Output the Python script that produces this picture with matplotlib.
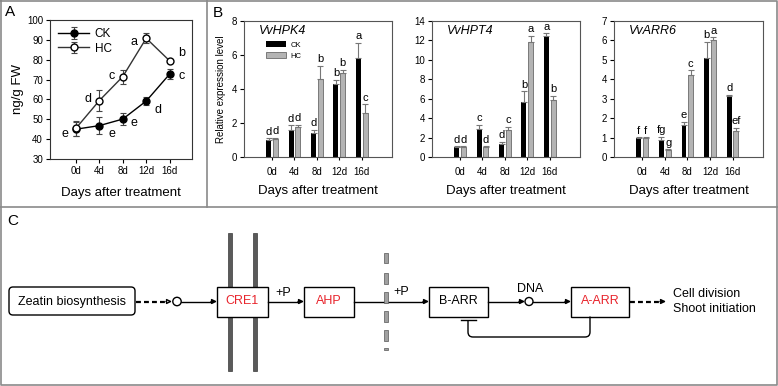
import numpy as np
import matplotlib
matplotlib.use('Agg')
import matplotlib.pyplot as plt
from matplotlib.patches import Rectangle, FancyBboxPatch, PathPatch, Circle
from matplotlib.path import Path

plt.rcParams['font.family'] = ['Liberation Sans', 'DejaVu Sans']

W, H = 778, 386

# ---- data ----
days = ['0d', '4d', '8d', '12d', '16d']

# panel A: zeatin content (ng/g FW)
ck_zeatin = [45.0, 46.8, 50.1, 59.2, 72.8]
ck_zeatin_err = [3.6, 4.3, 3.0, 2.1, 2.3]
hc_zeatin = [45.4, 59.4, 71.5, 90.8, 79.4]
hc_zeatin_err = [3.6, 5.3, 3.5, 2.5, 1.0]
ck_zeatin_letters = ['e', 'e', 'e', 'd', 'c']
hc_zeatin_letters = ['', 'd', 'c', 'a', 'b']

# panel B: relative expression
hpk4_ck = [1.02, 1.57, 1.43, 4.27, 5.82]
hpk4_ck_err = [0.08, 0.29, 0.17, 0.28, 0.88]
hpk4_hc = [1.04, 1.76, 4.57, 4.94, 2.60]
hpk4_hc_err = [0.08, 0.14, 0.80, 0.20, 0.50]
hpk4_ck_letters = ['d', 'd', 'd', 'b', 'a']
hpk4_hc_letters = ['d', 'd', 'b', 'b', 'c']

hpt4_ck = [1.04, 2.85, 1.32, 5.63, 12.43]
hpt4_ck_err = [0.05, 0.45, 0.25, 1.14, 0.30]
hpt4_hc = [1.04, 1.04, 2.78, 11.80, 5.90]
hpt4_hc_err = [0.05, 0.05, 0.35, 0.70, 0.40]
hpt4_ck_letters = ['d', 'c', 'd', 'b', 'a']
hpt4_hc_letters = ['d', 'd', 'c', 'a', 'b']

arr6_ck = [0.99, 0.87, 1.65, 5.07, 3.16]
arr6_ck_err = [0.02, 0.17, 0.17, 0.87, 0.05]
arr6_hc = [1.00, 0.38, 4.24, 6.04, 1.34]
arr6_hc_err = [0.02, 0.02, 0.22, 0.12, 0.16]
arr6_ck_letters = ['f', 'fg', 'e', 'b', 'd']
arr6_hc_letters = ['f', 'g', 'c', 'a', 'ef']


def px_rect(x0, y0, x1, y1):
    return [x0 / W, 1 - y1 / H, (x1 - x0) / W, (y1 - y0) / H]


fig = plt.figure(figsize=(W / 100, H / 100), dpi=100)

# overlay in pixel coords for frames and pathway diagram
ov = fig.add_axes([0, 0, 1, 1])
ov.set_xlim(0, W)
ov.set_ylim(H, 0)
ov.axis('off')

frame_c = '#8a8a8a'
ov.plot([0.5, W - 1, W - 1, 0.5, 0.5], [0.5, 0.5, H - 1.5, H - 1.5, 0.5], color=frame_c, lw=1.2)
ov.plot([0, W], [206.5, 206.5], color=frame_c, lw=1.2)
ov.plot([207.5, 207.5], [0, 206.5], color=frame_c, lw=1.2)

ov.text(10, 12, 'A', fontsize=11, ha='center', va='center')
ov.text(218, 13, 'B', fontsize=11, ha='center', va='center')
ov.text(13, 221, 'C', fontsize=11, ha='center', va='center')

# ---- panel A ----
axA = fig.add_axes(px_rect(50, 20, 192, 159))
x = np.arange(len(days))
axA.errorbar(x, ck_zeatin, yerr=ck_zeatin_err, color='black', lw=1, marker='o', ms=5,
             mfc='black', mec='black', ecolor='#444', elinewidth=0.8, capsize=2, capthick=0.8,
             label='CK', zorder=3)
axA.errorbar(x, hc_zeatin, yerr=hc_zeatin_err, color='#333', lw=1, marker='o', ms=5,
             mfc='white', mec='black', ecolor='#444', elinewidth=0.8, capsize=2, capthick=0.8,
             label='HC', zorder=3)
ck_off = [(-0.48, -2.5), (0.55, -4.0), (0.49, -1.8), (0.5, -4.5), (0.52, -1.0)]
hc_off = [(0, 0), (-0.47, 0.6), (-0.48, 0.3), (-0.51, -2.0), (0.52, 4.0)]
for i in range(len(days)):
    if ck_zeatin_letters[i]:
        axA.text(i + ck_off[i][0], ck_zeatin[i] + ck_off[i][1], ck_zeatin_letters[i],
                 fontsize=9, ha='center', va='center')
    if hc_zeatin_letters[i]:
        axA.text(i + hc_off[i][0], hc_zeatin[i] + hc_off[i][1], hc_zeatin_letters[i],
                 fontsize=9, ha='center', va='center')
axA.set_xlim(-1.1, 4.95)
axA.set_ylim(30, 100)
axA.set_yticks(range(30, 101, 10))
axA.set_xticks(x)
axA.set_xticklabels(days)
axA.tick_params(labelsize=7, length=3, width=0.8, pad=2)
axA.set_ylabel('ng/g FW', fontsize=9.5, labelpad=2)
axA.set_xlabel('Days after treatment', fontsize=9.5, labelpad=8)
for s in axA.spines.values():
    s.set_color('#333')
    s.set_linewidth(0.8)
axA.legend(loc='upper left', frameon=False, fontsize=8.5, handlelength=2.6,
           borderaxespad=0.3, labelspacing=0.2, handletextpad=0.5)


# ---- panel B ----
def bar_panel(rect, title, ck, ck_err, hc, hc_err, ck_lab, hc_lab, ymax, step, first=False):
    ax = fig.add_axes(px_rect(*rect))
    xb = np.arange(len(days))
    off, w = 0.15, 0.22
    ekw = dict(ecolor='#777', capsize=2, elinewidth=0.8, capthick=0.8)
    zero = np.zeros(len(days))
    ax.bar(xb - off, ck, w, color='black', yerr=[zero, ck_err], error_kw=ekw, label='CK')
    ax.bar(xb + off, hc, w, color='#b4b4b4', edgecolor='#6a6a6a', lw=0.6,
           yerr=[zero, hc_err], error_kw=ekw, label='HC')
    pad = ymax * 0.012
    for i in range(len(days)):
        ax.text(xb[i] - off, ck[i] + ck_err[i] + pad, ck_lab[i], fontsize=8,
                ha='center', va='bottom')
        ax.text(xb[i] + off, hc[i] + hc_err[i] + pad, hc_lab[i], fontsize=8,
                ha='center', va='bottom')
    ax.set_xlim(-1.25, 5.35)
    ax.set_ylim(0, ymax)
    ax.set_yticks(np.arange(0, ymax + 0.01, step))
    ax.set_xticks(xb)
    ax.set_xticklabels(days)
    ax.tick_params(labelsize=7, length=3, width=0.8, pad=2)
    ax.tick_params(axis='x', length=2, pad=5)
    ax.set_xlabel('Days after treatment', fontsize=9.5, labelpad=6)
    for s in ax.spines.values():
        s.set_color('#555')
        s.set_linewidth(0.8)
    ax.text(0.1, 0.93, title, transform=ax.transAxes, fontsize=9, style='italic',
            ha='left', va='center')
    if first:
        ax.set_ylabel('Relative expression level', fontsize=7, labelpad=4)
        ax.legend(loc='upper left', bbox_to_anchor=(0.13, 0.875), frameon=False, fontsize=5.5,
                  handlelength=2.6, handleheight=0.8, labelspacing=0.45, handletextpad=0.6,
                  borderaxespad=0)
    return ax


bar_panel((244, 21, 392, 157), 'VvHPK4', hpk4_ck, hpk4_ck_err, hpk4_hc, hpk4_hc_err,
          hpk4_ck_letters, hpk4_hc_letters, 8, 2, first=True)
bar_panel((432, 21, 580, 157), 'VvHPT4', hpt4_ck, hpt4_ck_err, hpt4_hc, hpt4_hc_err,
          hpt4_ck_letters, hpt4_hc_letters, 14, 2)
bar_panel((614, 21, 763, 157), 'VvARR6', arr6_ck, arr6_ck_err, arr6_hc, arr6_hc_err,
          arr6_ck_letters, arr6_hc_letters, 7, 1)

# ---- panel C: cytokinin signalling pathway ----
red = '#e8242c'
yc = 301.5
fs = 9


def box(x0, x1, text, color):
    ov.add_patch(Rectangle((x0, 286.5), x1 - x0, 30, fc='white', ec='black', lw=1, zorder=3))
    ov.text((x0 + x1) / 2, yc, text, color=color, ha='center', va='center', fontsize=fs, zorder=4)


def head(x_tip, y, fc='black', length=6):
    ov.annotate('', xy=(x_tip, y), xytext=(x_tip - length, y),
                arrowprops=dict(arrowstyle='-|>', fc=fc, ec='black', lw=1,
                                mutation_scale=7, shrinkA=0, shrinkB=0), zorder=4)


# membranes
for mx in (230, 255):
    ov.add_patch(Rectangle((mx - 2, 233), 4, 138, fc='#5a5a5a', ec='#3a3a3a', lw=0.5, zorder=2))
for dy0, dy1 in [(253, 263), (273, 284), (292, 303), (311, 322), (330, 341), (348, 350)]:
    ov.add_patch(Rectangle((384.5, dy0), 3.5, dy1 - dy0, fc='#a0a0a0', ec='#555', lw=0.5, zorder=5))

# zeatin box
ov.add_patch(FancyBboxPatch((9, 287), 126, 28, boxstyle='round,pad=0,rounding_size=4',
                            fc='white', ec='black', lw=1, zorder=3))
ov.text(72, yc, 'Zeatin biosynthesis', ha='center', va='center', fontsize=fs, zorder=4)
ov.plot([136, 166], [yc, yc], color='black', lw=1.6, ls=(0, (2.2, 1.4)), zorder=3)
head(172, yc, fc='white')
ov.add_patch(Circle((177, yc), 4.2, fc='white', ec='black', lw=1, zorder=4))
ov.plot([181, 212], [yc, yc], color='black', lw=1, zorder=3)
head(217, yc)

box(217, 268, 'CRE1', red)
ov.text(283, 293, '+P', ha='center', va='center', fontsize=fs)
ov.plot([268, 299], [yc, yc], color='black', lw=1, zorder=3)
head(304, yc)
box(304, 354, 'AHP', red)
ov.plot([354, 424], [yc, yc], color='black', lw=1, zorder=3)
ov.text(401, 292, '+P', ha='center', va='center', fontsize=fs)
head(429, yc)
box(429, 488, 'B-ARR', 'black')
ov.plot([488, 520], [yc, yc], color='black', lw=1, zorder=3)
head(525, yc)
ov.add_patch(Circle((529, yc), 4, fc='white', ec='black', lw=1, zorder=4))
ov.text(530, 289, 'DNA', ha='center', va='center', fontsize=fs)
ov.plot([533, 566], [yc, yc], color='black', lw=1, zorder=3)
head(571, yc)
box(571, 629, 'A-ARR', red)
ov.plot([630, 660], [yc, yc], color='black', lw=1.6, ls=(0, (2.2, 1.4)), zorder=3)
head(666, yc)
ov.text(673, 294, 'Cell division', ha='left', va='center', fontsize=fs)
ov.text(673, 309.5, 'Shoot initiation', ha='left', va='center', fontsize=fs)

# negative feedback A-ARR -| B-ARR
verts = [(590, 316.5), (590, 332), (590, 337), (585, 337), (473, 337), (468, 337), (468, 332), (468, 320)]
codes = [Path.MOVETO, Path.LINETO, Path.CURVE3, Path.CURVE3, Path.LINETO, Path.CURVE3, Path.CURVE3, Path.LINETO]
ov.add_patch(PathPatch(Path(verts, codes), fc='none', ec='black', lw=1, zorder=3))
ov.plot([461.5, 476.5], [320, 320], color='black', lw=1, zorder=3)

fig.savefig('out.png', dpi=100)
